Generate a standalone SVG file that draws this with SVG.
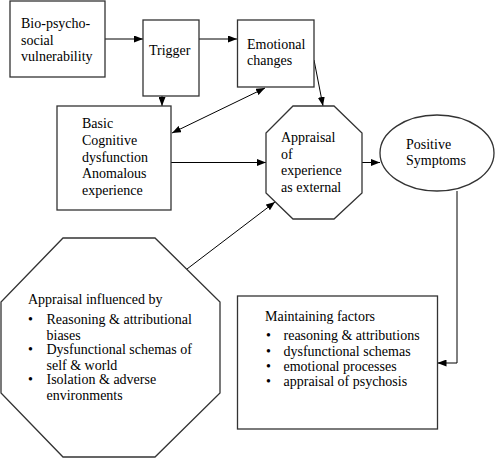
<svg xmlns="http://www.w3.org/2000/svg" width="496" height="458" viewBox="0 0 496 458">
<defs>
<marker id="ah" markerUnits="userSpaceOnUse" markerWidth="9" markerHeight="7" refX="9" refY="3.5" orient="auto-start-reverse">
<path d="M0,0 L9,3.5 L0,7 z" fill="#000"/>
</marker>
<style>
.box{fill:#fff;stroke:#333;stroke-width:1.3}
.c{fill:none;stroke:#000;stroke-width:1}
</style>
</defs>
<rect width="496" height="458" fill="#fff"/>
<g id="connectors">
<line class="c" x1="105" y1="39" x2="143" y2="39" marker-end="url(#ah)"/>
<line class="c" x1="199" y1="39" x2="237" y2="39" marker-end="url(#ah)"/>
<line class="c" x1="162" y1="96" x2="162" y2="106" marker-end="url(#ah)"/>
<line class="c" x1="172" y1="133" x2="265" y2="88" marker-start="url(#ah)" marker-end="url(#ah)"/>
<line class="c" x1="314" y1="60" x2="323" y2="106" marker-end="url(#ah)"/>
<line class="c" x1="171" y1="162.5" x2="266" y2="162.5" marker-end="url(#ah)"/>
<line class="c" x1="362" y1="162.5" x2="380" y2="162.5" marker-end="url(#ah)"/>
<line class="c" x1="187" y1="269" x2="275" y2="202" marker-end="url(#ah)"/>
<polyline class="c" points="457,191 457,363 437.5,363" marker-end="url(#ah)"/>
</g>
<g font-family="Liberation Serif, Times New Roman, serif" font-size="14" fill="#000">
<g id="bio">
<rect class="box" x="10" y="1" width="95" height="76"/>
<text x="21" y="28" fill="#000">Bio-psycho-</text>
<text x="21" y="45" fill="#000">social</text>
<text x="21" y="61" fill="#000">vulnerability</text>
</g>
<g id="trigger">
<rect class="box" x="143" y="20" width="56" height="76"/>
<text x="149" y="55">Trigger</text>
</g>
<g id="emotional">
<rect class="box" x="237.5" y="20" width="76.5" height="67"/>
<text x="247" y="49">Emotional</text>
<text x="247" y="65">changes</text>
</g>
<g id="basic">
<rect class="box" x="57" y="106" width="114" height="104"/>
<text x="82" y="128">Basic</text>
<text x="82" y="145">Cognitive</text>
<text x="82" y="161.5">dysfunction</text>
<text x="82" y="178">Anomalous</text>
<text x="82" y="194.5">experience</text>
</g>
<g id="appraisal">
<polygon class="box" points="293,106 334,106 362,133 362,193 334,219 293,219 266,193 266,133"/>
<text x="281" y="142">Appraisal</text>
<text x="281" y="158.5">of</text>
<text x="281" y="175">experience</text>
<text x="281" y="191.5">as external</text>
</g>
<g id="positive">
<ellipse class="box" cx="437" cy="153" rx="57" ry="38"/>
<text x="406" y="149">Positive</text>
<text x="406" y="165">Symptoms</text>
</g>
<g id="influenced">
<polygon class="box" points="63,238 155,238 220,302 220,393 155,457 63,457 1,393 1,302"/>
<text x="28" y="304">Appraisal influenced by</text>
<text x="28" y="324">•</text>
<text x="46.5" y="324">Reasoning &amp; attributional</text>
<text x="46.5" y="340">biases</text>
<text x="28" y="354">•</text>
<text x="46.5" y="354">Dysfunctional schemas of</text>
<text x="46.5" y="369.5">self &amp; world</text>
<text x="28" y="384">•</text>
<text x="46.5" y="384">Isolation &amp; adverse</text>
<text x="46.5" y="400">environments</text>
</g>
<g id="maintaining">
<rect class="box" x="237.5" y="296" width="200" height="133"/>
<text x="265" y="321">Maintaining factors</text>
<text x="266" y="340">•</text>
<text x="283.5" y="340">reasoning &amp; attributions</text>
<text x="266" y="355.5">•</text>
<text x="283.5" y="355.5">dysfunctional schemas</text>
<text x="266" y="371">•</text>
<text x="283.5" y="371">emotional processes</text>
<text x="266" y="386">•</text>
<text x="283.5" y="386">appraisal of psychosis</text>
</g>
</g>
</svg>
